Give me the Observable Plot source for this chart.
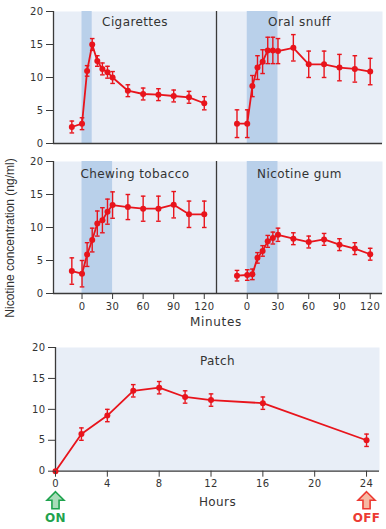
<!DOCTYPE html>
<html><head><meta charset="utf-8">
<script src="https://cdn.jsdelivr.net/npm/d3@7"></script>
<script src="https://cdn.jsdelivr.net/npm/@observablehq/plot@0.6"></script>
<style>
body{margin:0;background:#fff;}
#chart{position:relative;width:386px;height:529px;overflow:hidden;background:#fff;color:#333;}
#chart .panel{position:absolute;}
#ylab{position:absolute;left:-90px;top:231px;width:200px;text-align:center;transform:rotate(-90deg);font:12px "Liberation Sans",Arial,sans-serif;color:#333;white-space:nowrap;}
#xlab{position:absolute;left:156px;top:315px;width:120px;text-align:center;font:12px "DejaVu Sans",sans-serif;letter-spacing:0.7px;color:#333;}
</style></head><body><div id="chart"><div id="ylab">Nicotine concentration (ng/ml)</div><div id="xlab">Minutes</div></div>
<script>
// ---- data ----
const minutes = [-10, 0, 5, 10, 15, 20, 25, 30, 45, 60, 75, 90, 105, 120];
const cigarettes    = [2.5, 3.0, 11.0, 15.0, 12.5, 11.3, 10.8, 10.0, 8.0, 7.5, 7.4, 7.2, 7.0, 6.1];
const cigarettesErr = [0.9, 0.9, 0.8, 0.9, 0.8, 0.9, 0.9, 0.9, 0.9, 0.9, 0.9, 0.9, 0.9, 1.0];
const oralSnuff     = [3.0, 3.0, 8.7, 11.5, 12.4, 14.1, 14.1, 14.0, 14.5, 12.0, 12.0, 11.5, 11.3, 10.9];
const oralSnuffErr  = [2.1, 2.1, 1.6, 1.8, 1.8, 2.0, 2.0, 1.9, 2.0, 2.0, 2.0, 2.0, 2.0, 2.0];
const chewing       = [3.4, 3.0, 5.9, 8.1, 10.6, 11.1, 12.4, 13.4, 13.1, 12.85, 12.85, 13.45, 12.0, 12.0];
const chewingErr    = [2.0, 2.0, 1.8, 1.8, 1.9, 1.9, 1.9, 2.0, 1.9, 1.9, 1.9, 2.0, 2.0, 2.0];
const gum           = [2.7, 2.8, 2.9, 5.4, 6.45, 7.9, 8.4, 8.9, 8.3, 7.8, 8.2, 7.4, 6.8, 5.95];
const gumErr        = [0.8, 0.8, 0.8, 0.8, 0.8, 0.9, 0.9, 1.0, 0.9, 0.9, 0.9, 0.9, 0.9, 0.9];
const hours    = [0, 2, 4, 6, 8, 10, 12, 16, 24];
const patch    = [0, 6.0, 9.0, 13.0, 13.5, 12.0, 11.5, 11.0, 5.0];
const patchErr = [0, 1, 1, 1, 1, 1, 1, 1, 1];
const panelNames = ["Cigarettes", "Oral snuff", "Chewing tobacco", "Nicotine gum", "Patch"];
const bandStart = [0, 0, 0, 0];
const bandEnd   = [10, 30, 30, 30];
const yTicks = [0, 5, 10, 15, 20];
const minuteTicks = [0, 30, 60, 90, 120];
const hourTicks = [0, 4, 8, 12, 16, 20, 24];
const switchHours = [0, 24];
const switchLabels = ["ON", "OFF"];

// ---- styling ----
const RED = "#e8141c", BG = "#e8eef7", BAND = "#b9d0ea", AX = "#3a3a3a", TXT = "#333";
const capSymbol = {draw(ctx, size){ const r = Math.sqrt(size/Math.PI); ctx.moveTo(-r,0); ctx.lineTo(r,0); }};
const arrowSymbol = {draw(ctx, size){ const r = Math.sqrt(size/Math.PI), s = 0.42*r;
  ctx.moveTo(0,-r); ctx.lineTo(r,0); ctx.lineTo(s,0); ctx.lineTo(s,r); ctx.lineTo(-s,r); ctx.lineTo(-s,0); ctx.lineTo(-r,0); ctx.closePath(); }};

const chart = document.getElementById("chart");

function panel(o){
  const data = o.xs.map((x,i)=>({x, y:o.ys[i], e:o.es[i]}));
  const withErr = data.filter(d=>d.e>0);
  const marks = [
    Plot.frame({fill: BG, stroke: null}),
  ];
  if (o.band) marks.push(Plot.rect([o.band], {x1:"start", x2:"end", fill: BAND}));
  marks.push(
    Plot.ruleX([o.xDomain[0]], {stroke: AX, strokeWidth: 1.3}),
    Plot.ruleY([yTicks[0]], {stroke: AX, strokeWidth: 1.3}),
    Plot.text([o.name], {frameAnchor:"top", dy:o.titleDy, lineAnchor:"middle", fontSize:12, fill:TXT, letterSpacing:"0.5px"}),
    Plot.ruleX(withErr, {x:"x", y1:d=>d.y-d.e, y2:d=>d.y+d.e, stroke:RED, strokeWidth:1.4}),
    Plot.dot(withErr, {x:"x", y:d=>d.y-d.e, symbol:capSymbol, r:2.3, stroke:RED, strokeWidth:1.4}),
    Plot.dot(withErr, {x:"x", y:d=>d.y+d.e, symbol:capSymbol, r:2.3, stroke:RED, strokeWidth:1.4}),
    Plot.line(data, {x:"x", y:"y", stroke:RED, strokeWidth:1.8}),
    Plot.dot(data, {x:"x", y:"y", r:3, fill:RED, stroke:"none"})
  );
  if (o.showY) marks.push(Plot.axisY({ticks:yTicks, tickSize:7, tickPadding:3, label:null, stroke:AX, fill:TXT}));
  if (o.xTicks) marks.push(Plot.axisX({ticks:o.xTicks, tickSize:6, tickPadding:3, label:null, stroke:AX, fill:TXT}));
  if (o.extra) marks.push(...o.extra);
  const svg = Plot.plot({
    width:o.width, height:o.height,
    marginLeft:o.ml, marginRight:o.mr, marginTop:o.mt, marginBottom:o.mb,
    x:{domain:o.xDomain, axis:null},
    y:{domain:[yTicks[0], yTicks[yTicks.length-1]], axis:null},
    style:{fontFamily:'"DejaVu Sans", sans-serif', fontSize:"10px", background:"transparent", overflow:"visible", letterSpacing:"0.4px"},
    marks
  });
  svg.classList.add("panel");
  svg.style.left = o.left+"px"; svg.style.top = o.top+"px";
  chart.appendChild(svg);
}

const leftDom = [-28, 132], rightDom = [-30, 132];
panel({name:panelNames[0], xs:minutes, ys:cigarettes, es:cigarettesErr, band:{start:bandStart[0], end:bandEnd[0]},
  xDomain:leftDom, showY:true, left:0, top:0, width:216, height:150, ml:53, mr:0, mt:11, mb:7, titleDy:11});
panel({name:panelNames[1], xs:minutes, ys:oralSnuff, es:oralSnuffErr, band:{start:bandStart[1], end:bandEnd[1]},
  xDomain:rightDom, showY:false, left:215, top:0, width:167, height:150, ml:1, mr:0, mt:11, mb:7, titleDy:11});
panel({name:panelNames[2], xs:minutes, ys:chewing, es:chewingErr, band:{start:bandStart[2], end:bandEnd[2]},
  xDomain:leftDom, xTicks:minuteTicks, showY:true, left:0, top:150, width:216, height:180, ml:53, mr:0, mt:11, mb:37, titleDy:13});
panel({name:panelNames[3], xs:minutes, ys:gum, es:gumErr, band:{start:bandStart[3], end:bandEnd[3]},
  xDomain:rightDom, xTicks:minuteTicks, showY:false, left:215, top:150, width:167, height:180, ml:1, mr:0, mt:11, mb:37, titleDy:13});

const switches = switchHours.map((h,i)=>({h, label:switchLabels[i]}));
const switchColors = {ON:{fill:"#a9dcb9", stroke:"#1fa34e"}, OFF:{fill:"#f6b9a3", stroke:"#ec3b33"}};
panel({name:panelNames[4], xs:hours, ys:patch, es:patchErr, band:null,
  xDomain:[0, 25], xTicks:hourTicks, showY:true, left:0, top:335, width:386, height:194, ml:55, mr:7, mt:12, mb:58.3, titleDy:14,
  extra:[
    Plot.text(["Hours"], {frameAnchor:"bottom", dy:31, lineAnchor:"middle", fontSize:12, fill:TXT, letterSpacing:"0.7px"}),
    Plot.dot(switches, {x:"h", frameAnchor:"bottom", dy:29, symbol:arrowSymbol, r:8.5,
      fill:d=>switchColors[d.label].fill, stroke:d=>switchColors[d.label].stroke, strokeWidth:1.6}),
    Plot.text(switches, {x:"h", text:"label", frameAnchor:"bottom", dy:47, lineAnchor:"middle", fontSize:12, fontWeight:"bold",
      fill:d=>switchColors[d.label].stroke})
  ]});
</script></body></html>
